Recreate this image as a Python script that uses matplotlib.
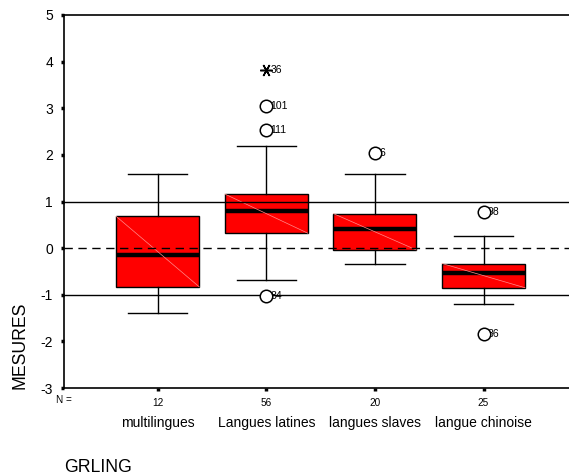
import numpy as np
import matplotlib
matplotlib.use("Agg")
import matplotlib.pyplot as plt
import matplotlib.transforms as mtransforms

plt.rcParams['font.family'] = ['Liberation Sans', 'DejaVu Sans']
plt.rcParams['axes.unicode_minus'] = False

# Group summaries (SPSS-style boxplot of MESURES by GRLING)
groups = ["multilingues", "Langues latines", "langues slaves", "langue chinoise"]
n_counts = [12, 56, 20, 25]
whisker_low = [-1.39, -0.69, -0.35, -1.20]
q1 = [-0.83, 0.32, -0.04, -0.85]
medians = [-0.14, 0.79, 0.41, -0.53]
q3 = [0.68, 1.16, 0.74, -0.33]
whisker_high = [1.60, 2.20, 1.60, 0.26]

# Outliers (circles) and extremes (asterisks), with case labels
outlier_group = [2, 2, 2, 3, 4, 4]
outlier_value = [3.04, 2.54, -1.02, 2.05, 0.78, -1.85]
outlier_label = ["101", "111", "84", "6", "98", "86"]
extreme_group = [2]
extreme_value = [3.83]
extreme_label = ["36"]

positions = np.arange(1, len(groups) + 1)
box_width = 0.764

stats = []
for i, name in enumerate(groups):
    stats.append(dict(label=name, whislo=whisker_low[i], q1=q1[i], med=medians[i],
                      q3=q3[i], whishi=whisker_high[i], fliers=[]))

fig = plt.figure(figsize=(5.69, 4.75), dpi=100)
ax = fig.add_axes([64 / 569, 87 / 475, 505 / 569, 373 / 475])

ax.bxp(stats, positions=positions, widths=box_width, capwidths=0.545,
       patch_artist=True, showfliers=False,
       boxprops=dict(facecolor="#ff0000", edgecolor="black", linewidth=1.0),
       medianprops=dict(color="black", linewidth=3.2),
       whiskerprops=dict(color="black", linewidth=1.0),
       capprops=dict(color="black", linewidth=1.0))

# faint diagonal across each box
for i, p in enumerate(positions):
    ax.plot([p - box_width / 2, p + box_width / 2], [q3[i], q1[i]],
            color="#ff8c8c", linewidth=0.5, zorder=2.5)

# reference lines
ax.axhline(1, color="black", linewidth=1.0, zorder=4)
ax.axhline(-1, color="black", linewidth=1.0, zorder=4)
ax.axhline(0, color="black", linewidth=1.0, dashes=(6, 4), zorder=4)

# outliers and their case numbers
for g, v, lab in zip(outlier_group, outlier_value, outlier_label):
    ax.annotate(lab, (g, v), xytext=(3, 0), textcoords="offset points",
                fontsize=7.5, ha="left", va="center", zorder=5)
ax.plot(outlier_group, outlier_value, linestyle="none", marker="o", markersize=9,
        markerfacecolor="white", markeredgecolor="black", markeredgewidth=1.1, zorder=6)
for g, v, lab in zip(extreme_group, extreme_value, extreme_label):
    ax.annotate(lab, (g, v), xytext=(3, 0), textcoords="offset points",
                fontsize=7.5, ha="left", va="center", zorder=5)
ax.plot(extreme_group, extreme_value, linestyle="none", marker=(6, 2, 90), markersize=9,
        color="black", markeredgewidth=1.1, zorder=6)

ax.set_xlim(0.137, 4.787)
ax.set_ylim(-3, 5)
ax.set_yticks(range(-3, 6))
ax.set_xticks(positions)
ax.set_xticklabels([str(n) for n in n_counts], fontsize=7.2)
ax.tick_params(axis="y", length=2, width=2.5, pad=6, labelsize=10)
ax.tick_params(axis="x", length=2, width=2.5, pad=5)

for side in ("left", "bottom", "top"):
    ax.spines[side].set_linewidth(1.2)
ax.spines["right"].set_visible(False)

# N label and group names under the axis
trans = mtransforms.blended_transform_factory(ax.transData, ax.transAxes)
ax.text(0.0, -0.032, "N =", transform=ax.transAxes, fontsize=7.2, ha="center", va="center")
for p, name in zip(positions, groups):
    ax.text(p, -0.094, name, transform=trans, fontsize=10, ha="center", va="center")

fig.text(20 / 569, 1 - 345 / 475, "MESURES", rotation=90, fontsize=12.7,
         ha="center", va="center")
fig.text(64 / 569, 1 - 467 / 475, "GRLING", fontsize=12.7, ha="left", va="center")

fig.savefig("out.png", dpi=100)
